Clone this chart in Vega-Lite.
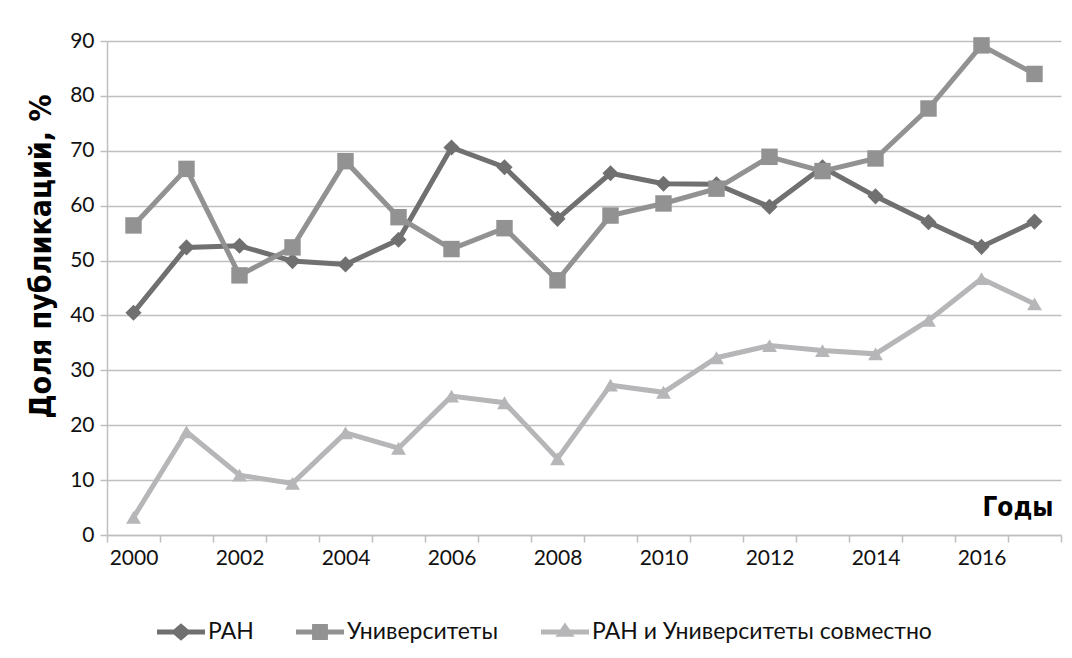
{
  "$schema": "https://vega.github.io/schema/vega-lite/v6.json",
  "width": 954,
  "height": 494,
  "autosize": {"type": "none"},
  "padding": {"left": 107, "top": 41, "right": 11, "bottom": 123},
  "background": "white",
  "config": {"view": {"stroke": null}},
  "data": {
    "values": [
      {"year": 2000, "series": "РАН", "value": 40.5},
      {"year": 2001, "series": "РАН", "value": 52.4},
      {"year": 2002, "series": "РАН", "value": 52.7},
      {"year": 2003, "series": "РАН", "value": 49.9},
      {"year": 2004, "series": "РАН", "value": 49.3},
      {"year": 2005, "series": "РАН", "value": 53.8},
      {"year": 2006, "series": "РАН", "value": 70.6},
      {"year": 2007, "series": "РАН", "value": 67.0},
      {"year": 2008, "series": "РАН", "value": 57.6},
      {"year": 2009, "series": "РАН", "value": 65.9},
      {"year": 2010, "series": "РАН", "value": 64.0},
      {"year": 2011, "series": "РАН", "value": 63.9},
      {"year": 2012, "series": "РАН", "value": 59.8},
      {"year": 2013, "series": "РАН", "value": 67.0},
      {"year": 2014, "series": "РАН", "value": 61.7},
      {"year": 2015, "series": "РАН", "value": 57.0},
      {"year": 2016, "series": "РАН", "value": 52.5},
      {"year": 2017, "series": "РАН", "value": 57.1},
      {"year": 2000, "series": "Университеты", "value": 56.4},
      {"year": 2001, "series": "Университеты", "value": 66.7},
      {"year": 2002, "series": "Университеты", "value": 47.3},
      {"year": 2003, "series": "Университеты", "value": 52.4},
      {"year": 2004, "series": "Университеты", "value": 68.1},
      {"year": 2005, "series": "Университеты", "value": 57.9},
      {"year": 2006, "series": "Университеты", "value": 52.1},
      {"year": 2007, "series": "Университеты", "value": 55.9},
      {"year": 2008, "series": "Университеты", "value": 46.4},
      {"year": 2009, "series": "Университеты", "value": 58.2},
      {"year": 2010, "series": "Университеты", "value": 60.4},
      {"year": 2011, "series": "Университеты", "value": 63.1},
      {"year": 2012, "series": "Университеты", "value": 68.9},
      {"year": 2013, "series": "Университеты", "value": 66.3},
      {"year": 2014, "series": "Университеты", "value": 68.6},
      {"year": 2015, "series": "Университеты", "value": 77.7},
      {"year": 2016, "series": "Университеты", "value": 89.2},
      {"year": 2017, "series": "Университеты", "value": 84.0},
      {"year": 2000, "series": "РАН и Университеты совместно", "value": 3.2},
      {"year": 2001, "series": "РАН и Университеты совместно", "value": 18.8},
      {"year": 2002, "series": "РАН и Университеты совместно", "value": 10.9},
      {"year": 2003, "series": "РАН и Университеты совместно", "value": 9.4},
      {"year": 2004, "series": "РАН и Университеты совместно", "value": 18.6},
      {"year": 2005, "series": "РАН и Университеты совместно", "value": 15.8},
      {"year": 2006, "series": "РАН и Университеты совместно", "value": 25.3},
      {"year": 2007, "series": "РАН и Университеты совместно", "value": 24.1},
      {"year": 2008, "series": "РАН и Университеты совместно", "value": 13.9},
      {"year": 2009, "series": "РАН и Университеты совместно", "value": 27.3},
      {"year": 2010, "series": "РАН и Университеты совместно", "value": 26.0},
      {"year": 2011, "series": "РАН и Университеты совместно", "value": 32.3},
      {"year": 2012, "series": "РАН и Университеты совместно", "value": 34.5},
      {"year": 2013, "series": "РАН и Университеты совместно", "value": 33.6},
      {"year": 2014, "series": "РАН и Университеты совместно", "value": 33.0},
      {"year": 2015, "series": "РАН и Университеты совместно", "value": 39.1},
      {"year": 2016, "series": "РАН и Университеты совместно", "value": 46.7},
      {"year": 2017, "series": "РАН и Университеты совместно", "value": 42.1}
    ]
  },
  "encoding": {
    "x": {
      "field": "year",
      "type": "ordinal",
      "bandPosition": 0.5,
      "scale": {"type": "band", "paddingInner": 0, "paddingOuter": 0},
      "axis": {
        "tickBand": "extent",
        "labelExpr": "datum.value % 2 === 0 ? datum.label : ''",
        "labelAngle": 0,
        "labelFont": "Lato",
        "labelFontSize": 21,
        "labelColor": "#111111",
        "labelPadding": 5,
        "domainColor": "#bfbfbf",
        "domainWidth": 1.5,
        "tickColor": "#bfbfbf",
        "tickWidth": 1.5,
        "tickSize": 7,
        "grid": false,
        "title": "Годы",
        "titleFont": "Liberation Sans Narrow, DejaVu Sans Condensed",
        "titleFontSize": 26,
        "titleFontWeight": "bold",
        "titleColor": "#000000",
        "titleAlign": "right",
        "titleBaseline": "alphabetic",
        "titleX": 946,
        "titleY": -20
      }
    },
    "y": {
      "field": "value",
      "type": "quantitative",
      "scale": {"domain": [0, 90]},
      "axis": {
        "values": [0, 10, 20, 30, 40, 50, 60, 70, 80, 90],
        "grid": true,
        "gridColor": "#bfbfbf",
        "gridWidth": 1.5,
        "domainColor": "#bfbfbf",
        "domainWidth": 1.5,
        "tickColor": "#bfbfbf",
        "tickWidth": 1.5,
        "tickSize": 7,
        "labelFont": "Lato",
        "labelFontSize": 21,
        "labelColor": "#111111",
        "labelPadding": 6,
        "title": "Доля публикаций, %",
        "titleFont": "Liberation Sans Narrow, DejaVu Sans Condensed",
        "titleFontSize": 30,
        "titleFontWeight": "bold",
        "titleColor": "#000000",
        "titleAngle": -90,
        "titleAlign": "center",
        "titleBaseline": "middle",
        "titleX": -66,
        "titleY": 215
      }
    },
    "color": {
      "field": "series",
      "type": "nominal",
      "scale": {
        "domain": ["РАН", "Университеты", "РАН и Университеты совместно"],
        "range": ["#707070", "#929292", "#b6b6b8"]
      },
      "legend": {
        "orient": "none",
        "legendX": 50,
        "legendY": 567,
        "direction": "horizontal",
        "title": null,
        "symbolSize": 2304,
        "symbolStrokeWidth": 0,
        "symbolOpacity": 1,
        "labelFont": "Lato",
        "labelFontSize": 23,
        "labelColor": "#111111",
        "labelOffset": 3,
        "labelLimit": 0,
        "columnPadding": 42
      }
    }
  },
  "layer": [
    {"mark": {"type": "line", "strokeWidth": 5}},
    {
      "transform": [{"filter": "datum.series === 'РАН'"}],
      "mark": {"type": "point", "filled": true, "opacity": 1, "shape": "diamond", "size": 260}
    },
    {
      "transform": [{"filter": "datum.series === 'Университеты'"}],
      "mark": {"type": "point", "filled": true, "opacity": 1, "shape": "square", "size": 270}
    },
    {
      "transform": [{"filter": "datum.series === 'РАН и Университеты совместно'"}],
      "mark": {"type": "point", "filled": true, "opacity": 1, "shape": "triangle-up", "size": 220}
    },
    {
      "transform": [{"filter": "false"}],
      "mark": {"type": "point", "filled": true, "opacity": 1},
      "encoding": {
        "shape": {
          "field": "series",
          "type": "nominal",
          "scale": {
            "domain": ["РАН", "Университеты", "РАН и Университеты совместно"],
            "range": [
              "M-1,-0.1L-0.3,-0.1L0,-0.36L0.3,-0.1L1,-0.1L1,0.1L0.3,0.1L0,0.36L-0.3,0.1L-1,0.1Z",
              "M-1,-0.1L-0.33,-0.1L-0.33,-0.33L0.33,-0.33L0.33,-0.1L1,-0.1L1,0.1L0.33,0.1L0.33,0.33L-0.33,0.33L-0.33,0.1L-1,0.1Z",
              "M-1,-0.1L-0.2,-0.1L0,-0.4L0.2,-0.1L1,-0.1L1,0.1L0.333,0.1L0.4,0.2L-0.4,0.2L-0.333,0.1L-1,0.1Z"
            ]
          },
          "legend": {
            "orient": "none",
            "legendX": 50,
            "legendY": 567,
            "direction": "horizontal",
            "title": null,
            "symbolSize": 2304,
            "symbolStrokeWidth": 0,
            "symbolOpacity": 1,
            "labelFont": "Lato",
            "labelFontSize": 23,
            "labelColor": "#111111",
            "labelOffset": 3,
            "labelLimit": 0,
            "columnPadding": 42
          }
        }
      }
    }
  ]
}
